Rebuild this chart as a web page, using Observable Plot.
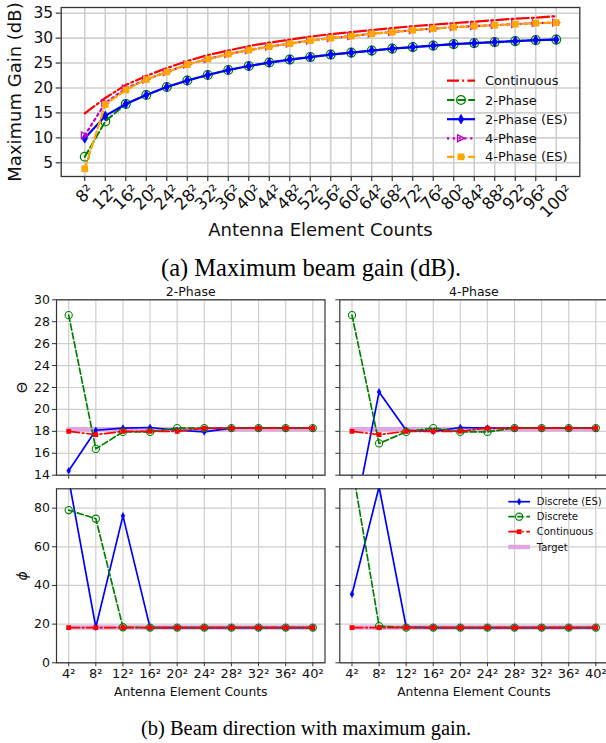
<!DOCTYPE html>
<html><head><meta charset="utf-8">
<script src="https://cdn.jsdelivr.net/npm/d3@7"></script>
<script src="https://cdn.jsdelivr.net/npm/@observablehq/plot@0.6"></script>
<style>
html,body{margin:0;padding:0;background:#fff;overflow:hidden}
#root{position:relative;width:606px;height:743px;overflow:hidden;background:#fff}
.cap{position:absolute;font-family:"Liberation Serif","Times New Roman",serif;font-size:20.5px;color:#000;white-space:nowrap;transform:translate(-50%,-50%)}
</style></head><body><div id="root"></div>
<script>
// ---------------- data: (a) maximum beam gain ----------------
const gainN = [8,12,16,20,24,28,32,36,40,44,48,52,56,60,64,68,72,76,80,84,88,92,96,100];
const gainYTicks = [5,10,15,20,25,30,35];
const gainContinuous = [14.9,18.0,20.6,22.4,24.0,25.4,26.6,27.5,28.4,29.1,29.7,30.3,30.8,31.2,31.6,32.0,32.4,32.7,33.0,33.3,33.6,33.9,34.1,34.4];
const gain2Phase     = [6.2,13.3,16.8,18.6,20.2,21.5,22.6,23.6,24.4,25.1,25.7,26.2,26.7,27.1,27.5,27.9,28.2,28.5,28.8,29.0,29.2,29.4,29.6,29.7];
const gain2PhaseES   = [9.9,14.4,16.8,18.6,20.2,21.5,22.6,23.6,24.4,25.1,25.7,26.2,26.7,27.1,27.5,27.9,28.2,28.5,28.8,29.0,29.2,29.4,29.6,29.7];
const gain4Phase     = [10.5,17.0,19.9,21.7,23.2,24.7,25.8,26.8,27.6,28.3,28.9,29.5,30.0,30.4,30.9,31.2,31.6,31.9,32.2,32.4,32.6,32.8,33.0,33.1];
const gain4PhaseES   = [3.8,16.7,19.6,21.7,23.2,24.7,25.8,26.8,27.6,28.3,28.9,29.5,30.0,30.4,30.9,31.2,31.6,31.9,32.2,32.4,32.6,32.8,33.0,33.1];
const gainLegend = ["Continuous","2-Phase","2-Phase (ES)","4-Phase","4-Phase (ES)"];

// ---------------- data: (b) beam direction ----------------
const dirN = [4,8,12,16,20,24,28,32,36,40];
const thetaTicks = [14,16,18,20,22,24,26,28,30];
const phiTicks = [0,20,40,60,80];
const thetaContinuous = [18.0,17.7,18.0,18.0,18.0,18.3,18.3,18.3,18.3,18.3];
const theta2PhaseES   = [14.4,18.1,18.3,18.35,18.1,17.95,18.3,18.3,18.3,18.3];
const theta2Phase     = [28.6,16.4,17.95,17.95,18.3,18.3,18.3,18.3,18.3,18.3];
const theta4PhaseES   = [9.0,21.6,18.1,18.0,18.35,18.3,18.3,18.3,18.3,18.3];
const theta4Phase     = [28.6,16.9,17.95,18.3,17.95,17.95,18.3,18.3,18.3,18.3];
const phiContinuous   = [18.2,18.2,18.2,18.2,18.2,18.2,18.2,18.2,18.2,18.2];
const phi2PhaseES     = [95,18.4,76,18.2,18.2,18.2,18.2,18.2,18.2,18.2];
const phi2Phase       = [79,74.5,18.4,18.2,18.2,18.2,18.2,18.2,18.2,18.2];
const phi4PhaseES     = [35.5,91,18.5,18.2,18.2,18.2,18.2,18.2,18.2,18.2];
const phi4Phase       = [102,19,18.2,18.2,18.2,18.2,18.2,18.2,18.2,18.2];
const targetTheta = 18.2, targetPhi = 18.2;
const dirLegend = ["Discrete (ES)","Discrete","Continuous","Target"];
const panelTitles = ["2-Phase","4-Phase"];

// ---------------- helpers ----------------
const FONT = "DejaVu Sans";
const root = document.getElementById("root");
const rows = (xs, ys) => xs.map((x, i) => ({x, y: ys[i]}));
const sup = n => `${n}²`;
const triRight = {draw(ctx, size){ const s = Math.sqrt(size/Math.PI); ctx.moveTo(s,0); ctx.lineTo(-s,s); ctx.lineTo(-s,-s); ctx.closePath(); }};
function place(el, x, y){ el.style.position="absolute"; el.style.left=x+"px"; el.style.top=y+"px"; root.appendChild(el); }

const C = {red:"#ff0000", green:"#008000", blue:"#0000ff", mag:"#bf00bf", orange:"#ffa500", target:"#dfa6df", grid:"#cfcfcf", frame:"#333333"};

// ---------------- (a) top chart ----------------
{
  const ox=0, oy=0, W=606, H=250, fx0=60.7, fx1=579.3, fy0=7, fy1=176;
  const lw = 2.2;
  const tickLab = (filter, dy) => Plot.text(gainN.filter(filter), {x: d=>d, text: sup, frameAnchor:"bottom", dy, rotate:-45, textAnchor:"middle", lineAnchor:"middle", fontSize:16.5, fill:"#111"});
  const svg = Plot.plot({
    width: W, height: H,
    marginLeft: fx0-ox, marginRight: ox+W-fx1, marginTop: fy0-oy, marginBottom: oy+H-fy1,
    x: {type:"linear", domain:[3.4,104.6]},
    y: {type:"linear", domain:[2.25,36.14]},
    style: {fontFamily: FONT, overflow:"visible", background:"transparent"},
    marks: [
      Plot.gridX(gainN, {stroke:C.grid, strokeOpacity:1, strokeWidth:1.6}),
      Plot.gridY(gainYTicks, {stroke:C.grid, strokeOpacity:1, strokeWidth:1.6}),
      Plot.line(rows(gainN, gainContinuous), {x:"x", y:"y", stroke:C.red, strokeWidth:lw, strokeDasharray:"12,3.2,2,3.2"}),
      Plot.line(rows(gainN, gain2Phase), {x:"x", y:"y", stroke:C.green, strokeWidth:2, strokeDasharray:"7.4,3.2"}),
      Plot.dot(rows(gainN, gain2Phase), {x:"x", y:"y", r:4.4, stroke:C.green, strokeWidth:1.3, fill:"none"}),
      Plot.line(rows(gainN, gain2PhaseES), {x:"x", y:"y", stroke:C.blue, strokeWidth:lw}),
      Plot.dot(rows(gainN, gain2PhaseES), {x:"x", y:"y", r:2.9, symbol:"diamond", fill:C.blue, stroke:C.blue, strokeWidth:0.8}),
      Plot.line(rows(gainN, gain4Phase), {x:"x", y:"y", stroke:C.mag, strokeWidth:lw, strokeDasharray:"2.2,3.6"}),
      Plot.dot(rows(gainN, gain4Phase), {x:"x", y:"y", r:3.4, symbol:triRight, stroke:C.mag, strokeWidth:1.3, fill:"none"}),
      Plot.line(rows(gainN, gain4PhaseES), {x:"x", y:"y", stroke:C.orange, strokeWidth:lw, strokeDasharray:"7.4,3.2"}),
      Plot.dot(rows(gainN, gain4PhaseES), {x:"x", y:"y", r:3.8, symbol:"square", fill:C.orange}),
      Plot.frame({stroke:C.frame, strokeWidth:1.3}),
      Plot.axisY(gainYTicks, {tickSize:5, tickPadding:3, fontSize:15.5, label:null, stroke:C.frame, strokeWidth:1.2, fill:"#111"}),
      Plot.axisX(gainN, {tickSize:5, tickFormat:()=>"", label:null, stroke:C.frame, strokeWidth:1.2}),
      tickLab(n => n < 10, 17.5),
      tickLab(n => n >= 10 && n < 100, 21),
      tickLab(n => n >= 100, 25),
      Plot.text(["Antenna Element Counts"], {text:d=>d, frameAnchor:"bottom", dy:59, fontSize:18, fill:"#111"}),
      Plot.text(["Maximum Gain (dB)"], {text:d=>d, frameAnchor:"left", dx:15-fx0, rotate:-90, textAnchor:"middle", lineAnchor:"middle", fontSize:18, fill:"#111"})
    ]
  });
  place(svg, ox, oy);
}

// ---------------- (b) four panels ----------------
function panel({ox, oy, W, H, fx0, fx1, fy0, fy1, ydomain, yticks, ylab, showY, showX, title, es, disc, cont, target}) {
  const lw = 1.7;
  const marks = [
    Plot.gridX(dirN, {stroke:C.grid, strokeOpacity:1, strokeWidth:1.2}),
    Plot.gridY(yticks, {stroke:C.grid, strokeOpacity:1, strokeWidth:1.2}),
    Plot.line(rows(dirN, dirN.map(()=>target)), {x:"x", y:"y", stroke:C.target, strokeWidth:4.5, strokeLinecap:"square", clip:true}),
    Plot.line(rows(dirN, es), {x:"x", y:"y", stroke:C.blue, strokeWidth:lw, clip:true}),
    Plot.dot(rows(dirN, es), {x:"x", y:"y", r:2, symbol:"diamond", fill:C.blue, stroke:C.blue, strokeWidth:0.6, clip:true}),
    Plot.line(rows(dirN, disc), {x:"x", y:"y", stroke:C.green, strokeWidth:lw, strokeDasharray:"6.3,2.7", clip:true}),
    Plot.dot(rows(dirN, disc), {x:"x", y:"y", r:3.6, stroke:C.green, strokeWidth:1.1, fill:"none", clip:true}),
    Plot.line(rows(dirN, cont), {x:"x", y:"y", stroke:C.red, strokeWidth:lw, strokeDasharray:"10.9,2.7,1.7,2.7", clip:true}),
    Plot.dot(rows(dirN, cont), {x:"x", y:"y", r:2.7, symbol:"square", fill:C.red, clip:true}),
    Plot.frame({stroke:C.frame, strokeWidth:1.2}),
    Plot.axisY(yticks, {tickSize:4, tickPadding:2.5, fontSize:12.5, label:null, stroke:C.frame, strokeWidth:1, fill:"#111", tickFormat: showY ? (d=>d) : (()=>"")}),
    Plot.axisX(dirN, {tickSize:4, tickPadding:2, fontSize:13, label:null, stroke:C.frame, strokeWidth:1, fill:"#111", tickFormat: showX ? sup : (()=>"")})
  ];
  if (title) marks.push(Plot.text([title], {text:d=>d, frameAnchor:"top", dy:-8.3, lineAnchor:"middle", fontSize:12.5, fill:"#111"}));
  if (ylab) marks.push(Plot.text([ylab], {text:d=>d, frameAnchor:"left", dx:22-fx0, rotate:-90, textAnchor:"middle", lineAnchor:"middle", fontSize:14, fontStyle: ylab==="ϕ" ? "italic" : "normal", fill:"#111"}));
  if (showX) marks.push(Plot.text(["Antenna Element Counts"], {text:d=>d, frameAnchor:"bottom", dy:29.5, lineAnchor:"middle", fontSize:12.3, fill:"#111"}));
  const svg = Plot.plot({
    width: W, height: H,
    marginLeft: fx0-ox, marginRight: ox+W-fx1, marginTop: fy0-oy, marginBottom: oy+H-fy1,
    x: {type:"linear", domain:[2.2,41.8]},
    y: {type:"linear", domain: ydomain},
    style: {fontFamily: FONT, overflow:"visible", background:"transparent"},
    marks
  });
  place(svg, ox, oy);
}
const colL = {ox:0, W:330, fx0:56, fx1:324.5};
const colR = {ox:330, W:280, fx0:339.3, fx1:607.5};
const rowT = {oy:280, H:200, fy0:299.3, fy1:474.7, ydomain:[14,30], yticks:thetaTicks};
const rowB = {oy:480, H:220, fy0:488.3, fy1:662.3, ydomain:[0,90], yticks:phiTicks};
panel({...colL, ...rowT, ylab:"Θ", showY:true, showX:false, title:panelTitles[0], es:theta2PhaseES, disc:theta2Phase, cont:thetaContinuous, target:targetTheta});
panel({...colR, ...rowT, ylab:null, showY:false, showX:false, title:panelTitles[1], es:theta4PhaseES, disc:theta4Phase, cont:thetaContinuous, target:targetTheta});
panel({...colL, ...rowB, ylab:"ϕ", showY:true, showX:true, title:null, es:phi2PhaseES, disc:phi2Phase, cont:phiContinuous, target:targetPhi});
panel({...colR, ...rowB, ylab:null, showY:false, showX:true, title:null, es:phi4PhaseES, disc:phi4Phase, cont:phiContinuous, target:targetPhi});

// ---------------- legends ----------------
{
  const svg = d3.create("svg").attr("width",606).attr("height",743).style("font-family",FONT).style("pointer-events","none");
  const entry = (g, y, x0, x1, tx, fs, line, marker, label) => {
    g.append("line").attr("x1",x0).attr("x2",x1).attr("y1",y).attr("y2",y)
      .attr("stroke",line.stroke).attr("stroke-width",line.w).attr("stroke-dasharray",line.dash||null).attr("stroke-linecap",line.cap||"butt");
    if (marker) {
      g.append("path").attr("transform",`translate(${(x0+x1)/2},${y})`)
        .attr("d", d3.symbol().type(marker.type).size(Math.PI*marker.r*marker.r)())
        .attr("fill", marker.fill).attr("stroke", marker.stroke||"none").attr("stroke-width", marker.sw||0);
    }
    g.append("text").attr("x",tx).attr("y",y).attr("dy","0.35em").attr("font-size",fs).attr("fill","#111").text(label);
  };
  const g1 = svg.append("g");
  const ys1 = [80.7,100,119.2,138.3,156.8];
  const st1 = [
    [{stroke:C.red,w:2.2,dash:"12,3.2,2,3.2"}, null],
    [{stroke:C.green,w:2,dash:"7.4,3.2"}, {type:d3.symbolCircle,r:4.4,fill:"none",stroke:C.green,sw:1.3}],
    [{stroke:C.blue,w:2.2}, {type:d3.symbolDiamond,r:2.9,fill:C.blue,stroke:C.blue,sw:0.8}],
    [{stroke:C.mag,w:2.2,dash:"2.2,3.6"}, {type:triRight,r:3.4,fill:"none",stroke:C.mag,sw:1.3}],
    [{stroke:C.orange,w:2.2,dash:"7.4,3.2"}, {type:d3.symbolSquare,r:3.8,fill:C.orange}]
  ];
  gainLegend.forEach((lab,i)=>entry(g1, ys1[i], 447, 475, 485, 13, st1[i][0], st1[i][1], lab));
  const g2 = svg.append("g");
  const ys2 = [501.7,516.7,531.7,547];
  const st2 = [
    [{stroke:C.blue,w:1.7}, {type:d3.symbolDiamond,r:2,fill:C.blue,stroke:C.blue,sw:0.6}],
    [{stroke:C.green,w:1.7,dash:"6.3,2.7"}, {type:d3.symbolCircle,r:3.6,fill:"none",stroke:C.green,sw:1.1}],
    [{stroke:C.red,w:1.7,dash:"10.9,2.7,1.7,2.7"}, {type:d3.symbolSquare,r:2.7,fill:C.red}],
    [{stroke:C.target,w:4.5}, null]
  ];
  dirLegend.forEach((lab,i)=>entry(g2, ys2[i], 508.3, 530, 536.7, 10, st2[i][0], st2[i][1], lab));
  place(svg.node(), 0, 0);
}

// ---------------- captions ----------------
const capA = document.createElement("div"); capA.className="cap"; capA.textContent="(a) Maximum beam gain (dB)."; capA.style.left="311px"; capA.style.top="268px"; capA.style.fontSize="24.5px"; root.appendChild(capA);
const capB = document.createElement("div"); capB.className="cap"; capB.textContent="(b) Beam direction with maximum gain."; capB.style.left="306px"; capB.style.top="728px"; root.appendChild(capB);
</script></body></html>
